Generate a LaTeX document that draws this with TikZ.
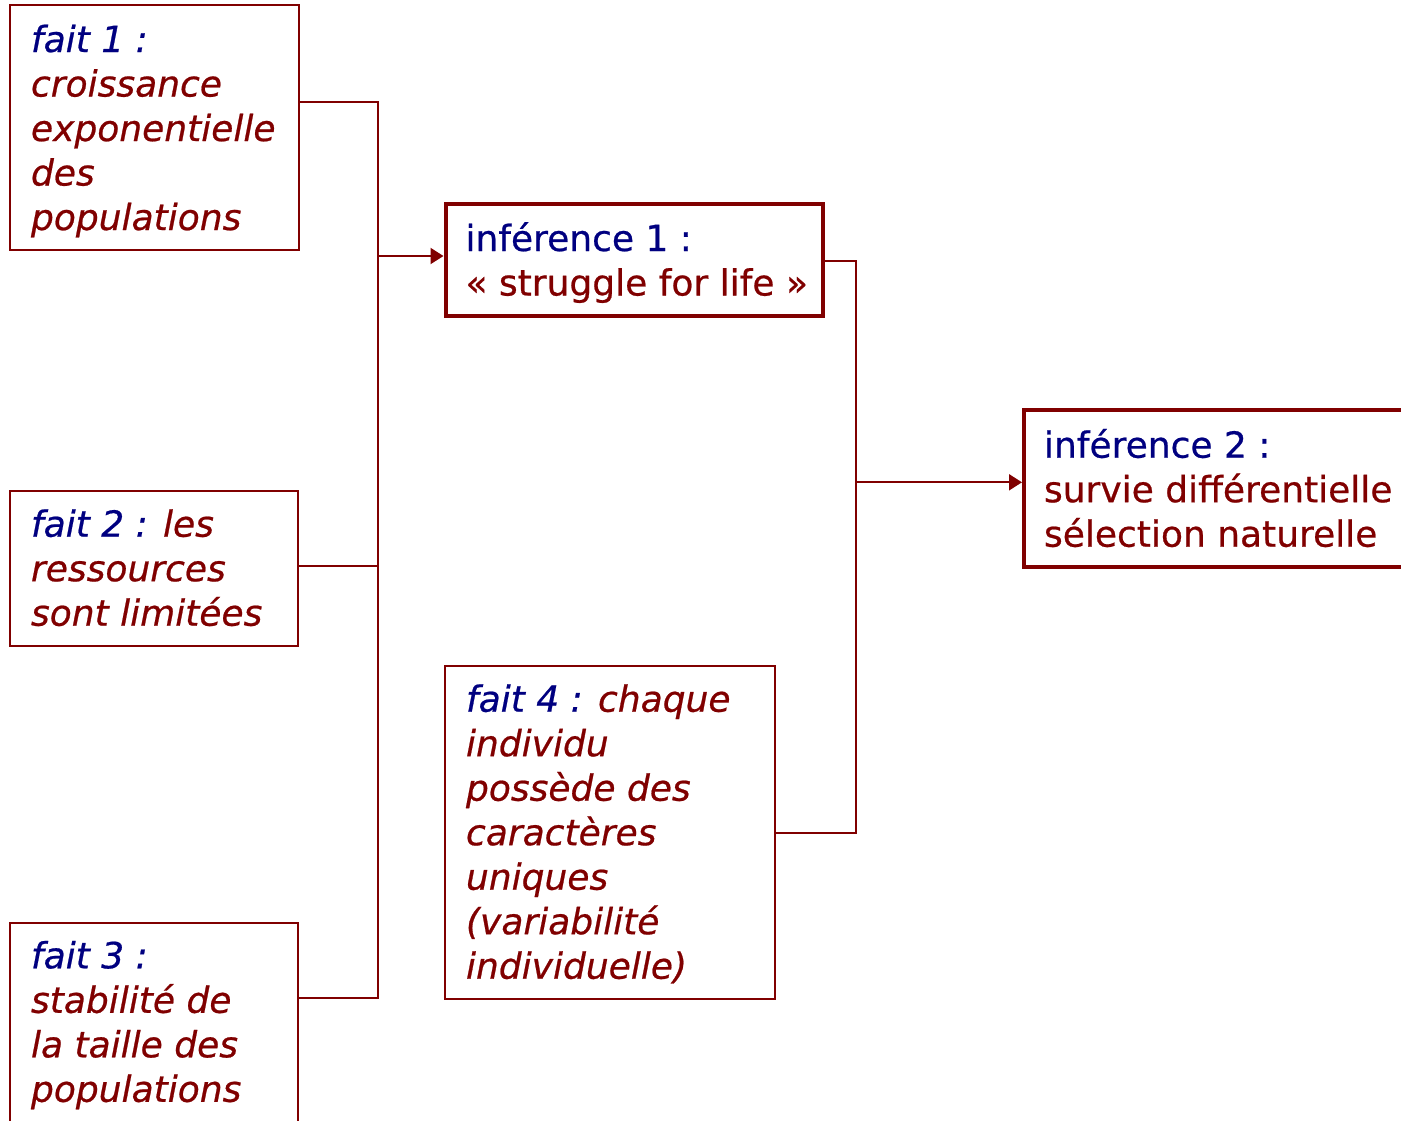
\documentclass[tikz,border=0pt]{standalone}
\usepackage{fontspec}
\setmainfont{DejaVu Sans}[FakeBold=0.6]
\usetikzlibrary{arrows.meta}
\definecolor{maroon}{RGB}{128,0,0}
\definecolor{navy}{RGB}{0,0,128}
% box content: height, width, first-baseline drop, lines
\newcommand\boxtext[4]{\parbox[c][#1pt][t]{#2pt}{\raggedright\fontsize{36pt}{44.5pt}\selectfont\rule{0pt}{#3pt}#4}}
\tikzset{
  fact/.style={draw=maroon, line width=2pt, rectangle, inner xsep=21pt, inner ysep=0pt,
    font=\itshape, text=maroon},
  inference/.style={draw=maroon, line width=4pt, rectangle, inner xsep=20pt, inner ysep=0pt,
    text=maroon},
  wire/.style={draw=maroon, line width=2pt},
  tip/.style={-{Triangle[length=13pt,width=16pt]}}
}
\begin{document}
\begin{tikzpicture}[x=1pt,y=-1pt]
\useasboundingbox (0,0) rectangle (1401,1120);

% facts
\node[fact] (fait1) at (154.25,127.65)
  {\boxtext{244.7}{246.5}{46.7}{\textcolor{navy}{fait 1 :}\\ croissance\\ exponentielle\\ des\\ populations}};
\node[fact] (fait2) at (154,568.2)
  {\boxtext{155}{246}{46}{\textcolor{navy}{fait 2 :} les\\ ressources\\ sont limitées}};
\node[fact] (fait3) at (154,1023.85)
  {\boxtext{202.3}{246}{45.6}{\textcolor{navy}{fait 3 :}\\ stabilité de\\ la taille des\\ populations}};
\node[fact] (fait4) at (610,832.5)
  {\boxtext{333.6}{288}{46}{\textcolor{navy}{fait 4 :} chaque\\ individu\\ possède des\\ caractères\\ uniques\\ (variabilité\\ individuelle)}};

% inferences
\node[inference] (inf1) at (634.4,259.85)
  {\boxtext{111.7}{337.8}{47}{\textcolor{navy}{inférence 1 :}\\ \mbox{« struggle for life »}}};
\node[inference] (inf2) at (1222,488.65)
  {\boxtext{157.3}{356}{47.7}{\textcolor{navy}{inférence 2 :}\\ \mbox{survie différentielle}\\ sélection naturelle}};

% junction points of the two collecting lines
\coordinate (b1top) at (378.3,101.7);
\coordinate (b1mid) at (378.3,565.7);
\coordinate (b1bot) at (378.3,997.7);
\coordinate (j1)    at (378.3,256);
\coordinate (b2top) at (855.8,260.7);
\coordinate (b2bot) at (855.8,832.7);
\coordinate (j2)    at (855.8,482.3);

\draw[wire] (b1top -| fait1.east) -- (b1top) -- (b1bot) -- (b1bot -| fait3.east);
\draw[wire] (b1mid -| fait2.east) -- (b1mid);
\draw[wire,tip] (j1) -- (j1 -| inf1.west);

\draw[wire] (b2top -| inf1.east) -- (b2top) -- (b2bot) -- (b2bot -| fait4.east);
\draw[wire,tip] (j2) -- (j2 -| inf2.west);
\end{tikzpicture}
\end{document}
